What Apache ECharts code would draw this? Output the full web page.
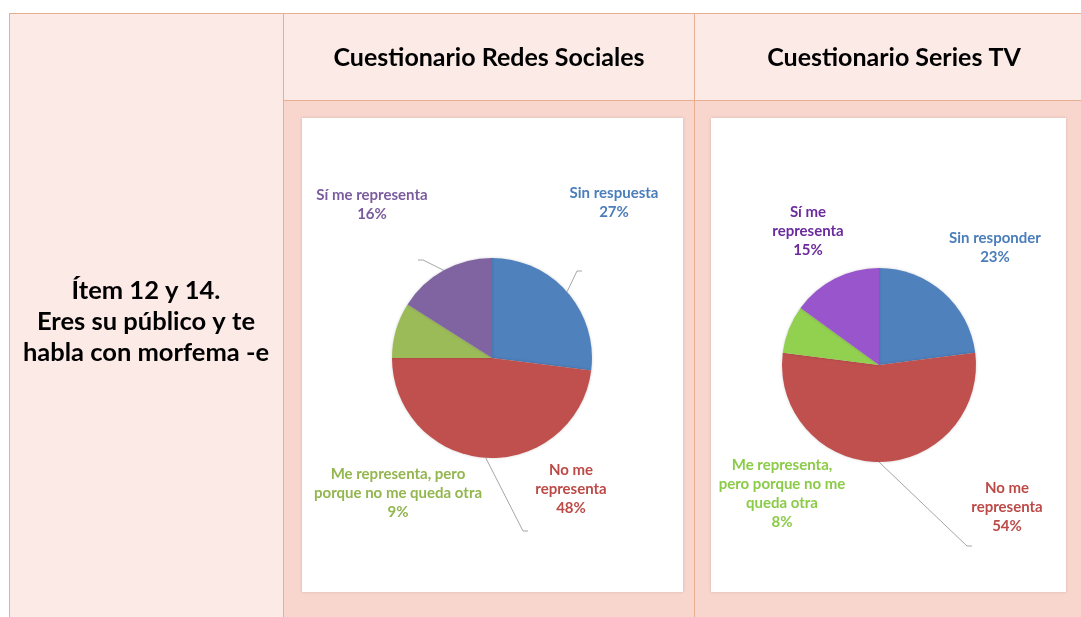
<!DOCTYPE html>
<html>
<head>
<meta charset="utf-8">
<title>Ítem 12 y 14</title>
<script src="https://cdn.jsdelivr.net/npm/echarts@6/dist/echarts.min.js"></script>
<style>
  html, body { margin: 0; padding: 0; background: #fff; }
  #main { width: 1081px; height: 617px; }
</style>
</head>
<body>
<div id="main"></div>
<script>
// datos (orden de las porciones: en sentido horario desde las 12)
const redesNames = ['Sin respuesta', 'No me\nrepresenta', 'Me representa, pero\nporque no me queda otra', 'Sí me representa']
const redesValues = [27, 48, 9, 16]
const seriesTvNames = ['Sin responder', 'No me\nrepresenta', 'Me representa,\npero porque no me\nqueda otra', 'Sí me\nrepresenta']
const seriesTvValues = [23, 54, 8, 15]
const headerTitles = ['Cuestionario Redes Sociales', 'Cuestionario Series TV']
const rowTitle = ['Ítem 12 y 14.', 'Eres su público y te', 'habla con morfema -e']

// estilos
const redesColors = ['#4F81BD', '#C0504D', '#9BBB59', '#8064A2']
const redesTextColors = ['#4A7DBA', '#BC4B48', '#93B64F', '#7A5C9E']
const tvColors = ['#4F81BD', '#C0504D', '#92D050', '#9955CC']
const tvTextColors = ['#4A7DBA', '#BC4B48', '#8CCB48', '#6B2B9C']

// posiciones de etiquetas (centro) y fin de las líneas guía (x, y, lado)
const redesLabelPos = [[614, 203], [571, 489], [398, 493], [372, 205]]
const redesGuideEnd = [[582, 271, 'left'], [528, 531, 'left'], null, [418, 260, 'right']]
const tvLabelPos = [[995, 248], [1007, 507], [782, 494], [808, 231]]
const tvGuideEnd = [null, [972, 546, 'left'], null, null]

const border = '#E8AE90'
const lightPink = '#FBEAE6'
const darkPink = '#F8D6CD'

let chart = echarts.init(document.getElementById('main'), null, { renderer: 'canvas' })

function pieSeries (names, values, colors, textColors, labelPos, center, radius) {
  return {
    type: 'pie',
    center: center,
    radius: radius,
    startAngle: 90,
    clockwise: true,
    avoidLabelOverlap: false,
    silent: true,
    z: 3,
    data: values.map(function (v, i) {
      return {
        name: names[i],
        value: v,
        itemStyle: { color: colors[i] },
        label: { color: textColors[i] }
      }
    }),
    itemStyle: {
      borderWidth: 0,
      shadowBlur: 3,
      shadowColor: 'rgba(0,0,0,0.18)'
    },
    label: {
      show: true,
      position: 'outside',
      fontFamily: 'Lato',
      fontWeight: 'bold',
      fontSize: 15,
      lineHeight: 19,
      formatter: function (p) {
        return p.name + '\n' + Math.round(p.percent) + '%'
      }
    },
    labelLine: { show: false },
    labelLayout: function (p) {
      let pos = labelPos[p.dataIndex]
      return { x: pos[0], y: pos[1], align: 'center', verticalAlign: 'middle' }
    }
  }
}

// serie transparente, solo para dibujar las líneas guía
function guideSeries (values, guideEnd, center, radius) {
  return {
    type: 'pie',
    center: center,
    radius: radius,
    startAngle: 90,
    clockwise: true,
    avoidLabelOverlap: false,
    silent: true,
    z: 4,
    itemStyle: { color: 'transparent' },
    data: values.map(function (v, i) {
      return {
        value: v,
        label: { show: guideEnd[i] !== null },
        labelLine: { show: guideEnd[i] !== null }
      }
    }),
    label: {
      position: 'outside',
      fontSize: 1,
      color: 'transparent',
      backgroundColor: 'transparent',
      padding: [1, 30, 1, 30],
      formatter: ' '
    },
    labelLine: {
      length: 10,
      length2: 5,
      lineStyle: { color: '#A6A6A6', width: 1 }
    },
    labelLayout: function (p) {
      let pos = guideEnd[p.dataIndex]
      if (!pos) return {}
      return { x: pos[0], y: pos[1], align: pos[2], verticalAlign: 'middle' }
    }
  }
}

let graphics = [
  // celdas de la tabla
  { type: 'rect', shape: { x: 9, y: 13, width: 274, height: 610 }, style: { fill: lightPink } },
  { type: 'rect', shape: { x: 283, y: 13, width: 800, height: 88 }, style: { fill: lightPink } },
  { type: 'rect', shape: { x: 283, y: 101, width: 800, height: 520 }, style: { fill: darkPink } },
  // paneles blancos de los gráficos
  { type: 'rect', shape: { x: 302, y: 118, width: 381, height: 474 }, style: { fill: '#fff', shadowBlur: 3, shadowColor: 'rgba(0,0,0,0.15)' } },
  { type: 'rect', shape: { x: 711, y: 118, width: 355, height: 474 }, style: { fill: '#fff', shadowBlur: 3, shadowColor: 'rgba(0,0,0,0.15)' } },
  // bordes
  { type: 'line', shape: { x1: 9, y1: 13.5, x2: 1081, y2: 13.5 }, style: { stroke: border, lineWidth: 1 } },
  { type: 'line', shape: { x1: 9.5, y1: 13, x2: 9.5, y2: 617 }, style: { stroke: border, lineWidth: 1 } },
  { type: 'line', shape: { x1: 283.5, y1: 13, x2: 283.5, y2: 617 }, style: { stroke: border, lineWidth: 1 } },
  { type: 'line', shape: { x1: 694.5, y1: 13, x2: 694.5, y2: 617 }, style: { stroke: border, lineWidth: 1 } },
  { type: 'line', shape: { x1: 283, y1: 100.5, x2: 1081, y2: 100.5 }, style: { stroke: border, lineWidth: 1 } },
  // títulos
  { type: 'text', x: 489, y: 58, style: { text: headerTitles[0], fill: '#000', font: 'bold 25px Lato', textAlign: 'center', textVerticalAlign: 'middle' } },
  { type: 'text', x: 894, y: 58, style: { text: headerTitles[1], fill: '#000', font: 'bold 25px Lato', textAlign: 'center', textVerticalAlign: 'middle' } }
]
rowTitle.forEach(function (t, i) {
  graphics.push({ type: 'text', x: 146, y: 291 + i * 31, style: { text: t, fill: '#000', font: 'bold 25.5px Lato', textAlign: 'center', textVerticalAlign: 'middle' } })
})

chart.setOption({
  animation: false,
  textStyle: { fontFamily: 'Lato' },
  graphic: graphics,
  series: [
    pieSeries(redesNames, redesValues, redesColors, redesTextColors, redesLabelPos, [492, 358], 100),
    guideSeries(redesValues, redesGuideEnd, [492, 358], 100),
    pieSeries(seriesTvNames, seriesTvValues, tvColors, tvTextColors, tvLabelPos, [879, 365], 97),
    guideSeries(seriesTvValues, tvGuideEnd, [879, 365], 97)
  ]
})

window.addEventListener('resize', function () {
  chart.resize()
})
</script>
</body>
</html>
